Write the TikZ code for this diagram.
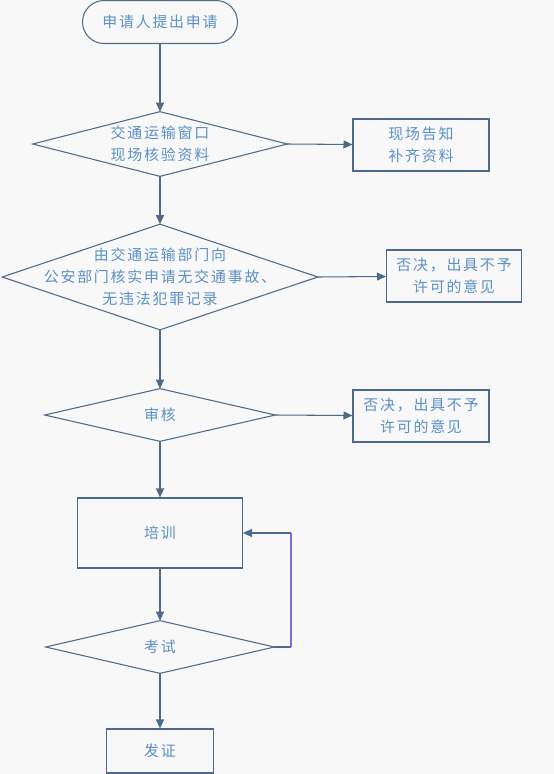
\documentclass[tikz,border=0pt]{standalone}
\usepackage{fontspec}
\newfontfamily\cjk{Noto Sans CJK SC}[LetterSpace=12]
\usetikzlibrary{arrows.meta}
\definecolor{linec}{HTML}{4C6A8C}
\definecolor{textc}{HTML}{5A90C8}
\definecolor{loopc}{HTML}{7A6CF2}
\definecolor{bgc}{HTML}{F8F8F8}

\begin{document}
\begin{tikzpicture}[
    x=0.02cm, y=-0.02cm,
    >={Triangle[length=1.8mm, width=1.6mm]},
    every node/.style={
        font=\cjk\fontsize{8.5}{12.5}\selectfont, text=textc,
        align=center, inner sep=0pt
    },
    terminal/.style={draw=linec, line width=0.6pt, rounded corners=0.43cm,
        minimum width=3.1cm, minimum height=0.86cm},
    procbox/.style={draw=linec, line width=0.6pt, minimum height=1.04cm},
    decision/.style={minimum height=1.04cm},
    flow/.style={->, line width=0.6pt, linec},
    outline/.style={draw=linec, line width=0.6pt},
]

% ── Background ──
\fill[bgc] (0,0) rectangle (554,774);
\useasboundingbox (0,0) rectangle (554,774);

% ── Main column ──
\node[terminal] (apply) at (160,22) {申请人提出申请};
\node[decision, minimum width=5.08cm, minimum height=1.28cm] (check) at (160,144)
    {交通运输窗口\\现场核验资料};
\node[decision, minimum width=6.3cm, minimum height=2.1cm] (verify) at (160,277)
    {由交通运输部门向\\公安部门核实申请无交通事故、\\无违法犯罪记录};
\node[decision, minimum width=4.6cm] (audit) at (160,415) {审核};
\node[procbox, minimum width=3.3cm, minimum height=1.4cm] (train) at (160,533) {培训};
\node[decision, minimum width=4.56cm] (exam) at (160,647) {考试};
\node[procbox, minimum width=2.14cm, minimum height=0.88cm] (issue) at (160,751) {发证};

% ── Side boxes ──
\node[procbox, minimum width=2.72cm] (supply)  at (421,145) {现场告知\\补齐资料};
\node[procbox, minimum width=2.7cm]  (reject1) at (454,276) {否决，出具不予\\许可的意见};
\node[procbox, minimum width=2.72cm] (reject2) at (421,416) {否决，出具不予\\许可的意见};

% ── Diamond outlines ──
\foreach \d in {check, verify, audit, exam}
    \draw[outline] (\d.north) -- (\d.east) -- (\d.south) -- (\d.west) -- cycle;

% ── Flow ──
\draw[flow] (apply) -- (check.north);
\draw[flow] (check.south) -- (verify.north);
\draw[flow] (verify.south) -- (audit.north);
\draw[flow] (audit.south) -- (train);
\draw[flow] (train) -- (exam.north);
\draw[flow] (exam.south) -- (issue);

\draw[flow] (check.east) -- (supply);
\draw[flow] (verify.east) -- (reject1);
\draw[flow] (audit.east) -- (reject2);

% ── Retake loop ──
\coordinate (loopbot) at (291,647);
\coordinate (looptop) at (291,533);
\draw[linec, line width=0.6pt] (exam.east) -- (loopbot);
\draw[loopc, line width=0.8pt] (loopbot) -- (looptop);
\draw[flow] (looptop) -- (train.east);

\end{tikzpicture}
\end{document}
